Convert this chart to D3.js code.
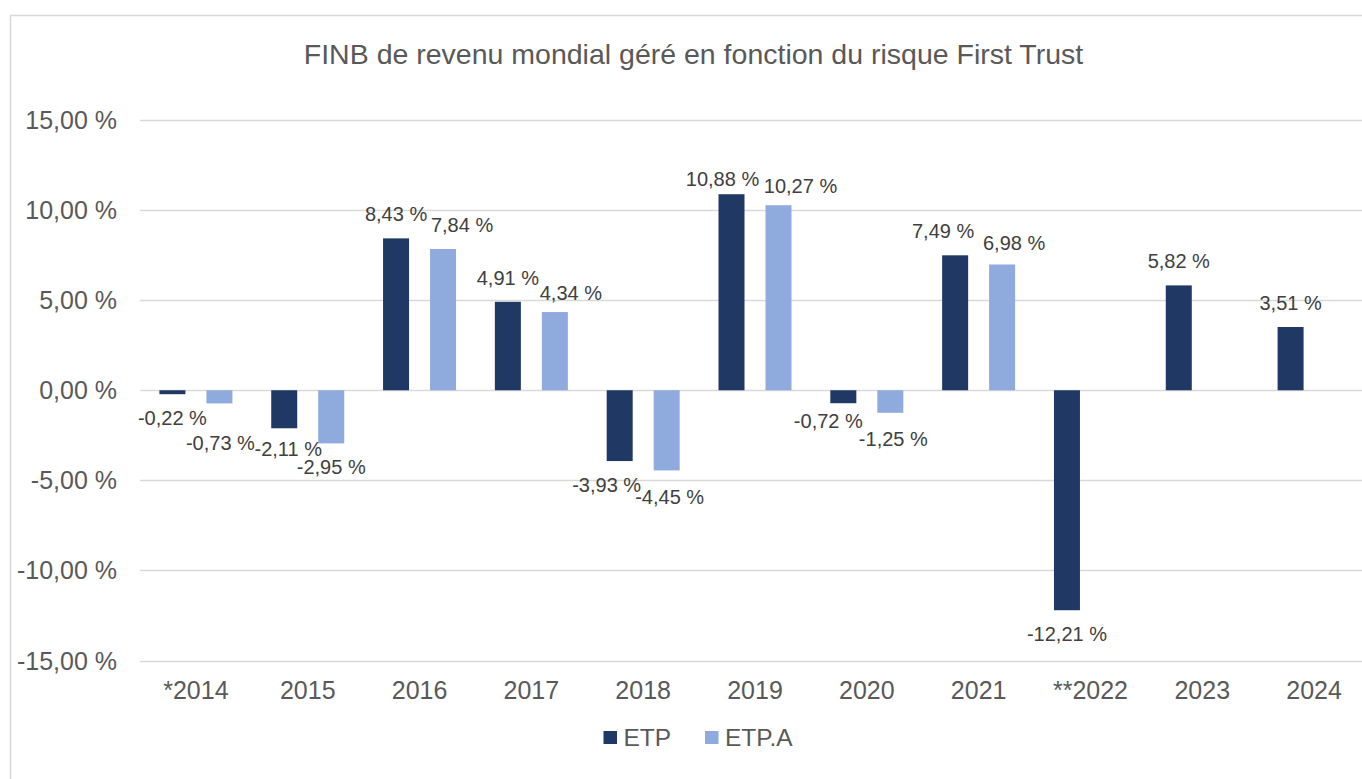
<!DOCTYPE html>
<html><head><meta charset="utf-8">
<script src="https://cdn.jsdelivr.net/npm/d3@7"></script>
<style>html,body{margin:0;padding:0;background:#fff;overflow:hidden}svg{display:block;font-family:"Liberation Sans",Arial,sans-serif}</style>
</head><body><svg id="c" width="1362" height="779"></svg>
<script>
const title = "FINB de revenu mondial géré en fonction du risque First Trust";
const categories = ["*2014","2015","2016","2017","2018","2019","2020","2021","**2022","2023","2024"];
const seriesNames = ["ETP","ETP.A"];
const etp  = [-0.22,-2.11,8.43,4.91,-3.93,10.88,-0.72,7.49,-12.21,5.82,3.51];
const etpA = [-0.73,-2.95,7.84,4.34,-4.45,10.27,-1.25,6.98,null,null,null];
const yTicks = [-15,-10,-5,0,5,10,15];
const colors = ["#203864","#8faadc"];

// label nudges (layout only): [dx, dy] per series per category
const nudgeETP  = [[0,0],[4,-3],[0,0],[0,0],[-13,0],[-9,9],[-15,-6],[-12,0],[0,0],[0,0],[0,0]];
const nudgeETPA = [[1,16],[0,0],[19,0],[16,5],[3,3],[22,5],[3,2],[12,3],[0,0],[0,0],[0,0]];

const svg = d3.select("#c");
const loc = d3.formatLocale({decimal:",", thousands:"\u00a0", grouping:[3], currency:["","\u00a0€"], minus:"-"});
const f2 = loc.format(".2f");
const fmt = v => f2(v) + " %";

// frame
svg.append("rect").attr("x",10.5).attr("y",15.5).attr("width",1400).attr("height",800)
  .attr("fill","none").attr("stroke","#d9d9d9").attr("stroke-width",1.5);

const x = d3.scaleBand().domain(categories).range([140,1370]).paddingInner(0).paddingOuter(0);
const xs = d3.scaleBand().domain(seriesNames).range([0,x.bandwidth()]).paddingInner(21/47).paddingOuter(0.413);
const y = d3.scaleLinear().domain([-15,15]).range([660.5,120]);

// title
svg.append("text").attr("x",693.5).attr("y",64).attr("text-anchor","middle")
  .attr("font-size",28.5).attr("fill","#595959").text(title);

// gridlines
svg.append("g").selectAll("line").data(yTicks).join("line")
  .attr("x1",140).attr("x2",1362)
  .attr("y1",d=>Math.round(y(d))+0.5).attr("y2",d=>Math.round(y(d))+0.5)
  .attr("stroke","#d9d9d9").attr("stroke-width",1.3);

// y axis labels
const yAxis = d3.axisLeft(y).tickValues(yTicks).tickFormat(fmt).tickSize(0).tickPadding(0);
const gy = svg.append("g").attr("transform","translate(117,0)").call(yAxis);
gy.select(".domain").remove();
gy.selectAll("text").attr("font-size",25).attr("fill","#595959").attr("font-family","Liberation Sans, Arial, sans-serif").attr("dy","0.34em");

// x axis labels
const xAxis = d3.axisBottom(x).tickSize(0).tickPadding(0);
const gx = svg.append("g").attr("transform","translate(0,680)").call(xAxis);
gx.select(".domain").remove();
gx.selectAll("text").attr("font-size",25).attr("fill","#595959").attr("font-family","Liberation Sans, Arial, sans-serif").attr("dy","0.75em");

// bars
const data = [];
categories.forEach((c,i)=>{
  if (etp[i]!=null) data.push({c, s:"ETP", v:etp[i], n:nudgeETP[i], col:colors[0]});
  if (etpA[i]!=null) data.push({c, s:"ETP.A", v:etpA[i], n:nudgeETPA[i], col:colors[1]});
});
svg.append("g").selectAll("rect").data(data).join("rect")
  .attr("x",d=>x(d.c)+xs(d.s)).attr("width",xs.bandwidth())
  .attr("y",d=>y(Math.max(0,d.v))).attr("height",d=>Math.abs(y(d.v)-y(0)))
  .attr("fill",d=>d.col);

// data labels
svg.append("g").selectAll("text").data(data).join("text")
  .attr("x",d=>x(d.c)+xs(d.s)+xs.bandwidth()/2+d.n[0])
  .attr("y",d=>(d.v>=0 ? y(d.v)-17 : y(d.v)+31)+d.n[1])
  .attr("text-anchor","middle").attr("font-size",20).attr("fill","#404040")
  .text(d=>fmt(d.v));

// legend
const lg = svg.append("g");
const legendX = [603.5,705];
seriesNames.forEach((s,i)=>{
  lg.append("rect").attr("x",legendX[i]).attr("y",731).attr("width",13.5).attr("height",13).attr("fill",colors[i]);
  lg.append("text").attr("x",legendX[i]+20).attr("y",746).attr("font-size",24.5).attr("fill","#595959").text(s);
});
</script></body></html>
